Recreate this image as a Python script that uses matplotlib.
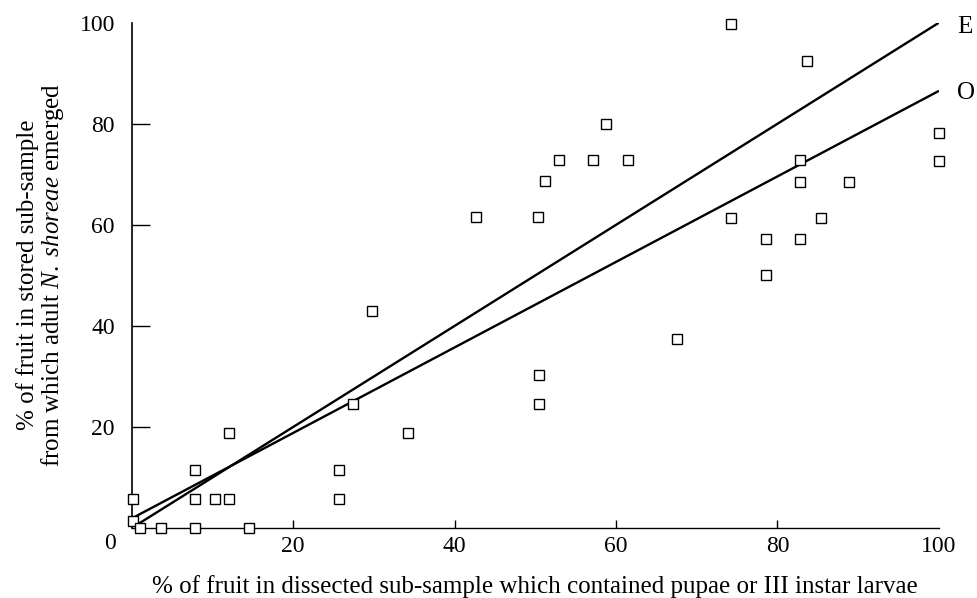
import matplotlib.pyplot as plt

# % of fruit in dissected sub-sample with pupae / III instar larvae
pct_dissected = [
    0.2, 0.2, 1.0, 3.6, 7.9, 14.6, 7.9, 10.4, 12.1, 7.9, 12.1,
    25.7, 25.7, 27.4, 29.8, 34.2, 50.5, 50.5, 42.7, 50.4, 51.2,
    52.9, 57.2, 61.5, 58.8, 67.5, 74.2, 83.6, 100.0, 100.0, 82.8,
    82.8, 88.8, 74.3, 85.4, 78.6, 82.8, 78.6,
]
# % of fruit in stored sub-sample from which adults emerged
pct_emerged = [
    5.7, 1.4, 0.0, 0.0, 0.0, 0.0, 5.7, 5.7, 5.7, 11.4, 18.7,
    5.7, 11.4, 24.4, 43.0, 18.8, 24.5, 30.2, 61.5, 61.5, 68.7,
    72.8, 72.8, 72.8, 79.9, 37.3, 99.7, 92.5, 78.2, 72.6, 72.8,
    68.5, 68.5, 61.4, 61.3, 57.2, 57.2, 50.0,
]

# fitted lines: E (expected) and O (observed)
e_x = [0.6, 100]
e_y = [0.5, 100]
o_x = [0.35, 100]
o_y = [2.1, 86.5]

plt.rcParams["font.family"] = ["Liberation Serif", "DejaVu Serif"]
plt.rcParams["mathtext.fontset"] = "custom"
plt.rcParams["mathtext.rm"] = "Liberation Serif"
plt.rcParams["mathtext.it"] = "Liberation Serif:italic"

fig = plt.figure(figsize=(9.77, 5.98), dpi=100)
ax = fig.add_axes([0.1346, 0.1176, 0.8265, 0.8445])

ax.plot(e_x, e_y, color="black", lw=1.7, solid_capstyle="butt")
ax.plot(o_x, o_y, color="black", lw=1.7, solid_capstyle="butt")
ax.plot(pct_dissected, pct_emerged, linestyle="none", marker="s",
        ms=6.5, mfc="white", mec="black", mew=1.0, clip_on=False, zorder=3)

ax.text(102.2, 99.2, "E", fontsize=18, va="center", ha="left", clip_on=False)
ax.text(102.2, 86.0, "O", fontsize=18, va="center", ha="left", clip_on=False)

ax.set_xlim(0, 100)
ax.set_ylim(0, 100)
ax.spines["top"].set_visible(False)
ax.spines["right"].set_visible(False)
ax.spines["left"].set_linewidth(1.2)
ax.spines["bottom"].set_linewidth(1.0)

ax.set_xticks([20, 40, 60, 80, 100])
ax.set_yticks([20, 40, 60, 80, 100])
ax.tick_params(axis="x", direction="in", length=6, width=1.0,
               labelsize=17, pad=6)
ax.tick_params(axis="y", direction="in", length=13, width=1.0,
               labelsize=17, pad=12)
ax.xaxis.get_major_ticks()[-1].tick1line.set_visible(False)
ax.yaxis.get_major_ticks()[-1].tick1line.set_visible(False)

ax.annotate("0", xy=(0, 0), xytext=(-11, -11.4), textcoords="offset points",
            ha="right", va="center", fontsize=17)

ax.set_xlabel("% of fruit in dissected sub-sample which contained pupae "
              "or III instar larvae", fontsize=18, labelpad=13)
ax.set_ylabel("% of fruit in stored sub-sample\n"
              "from which adult $\\mathit{N.\\ shoreae}$ emerged",
              fontsize=18, labelpad=10, linespacing=1.0)

fig.savefig("out.png", dpi=100)
